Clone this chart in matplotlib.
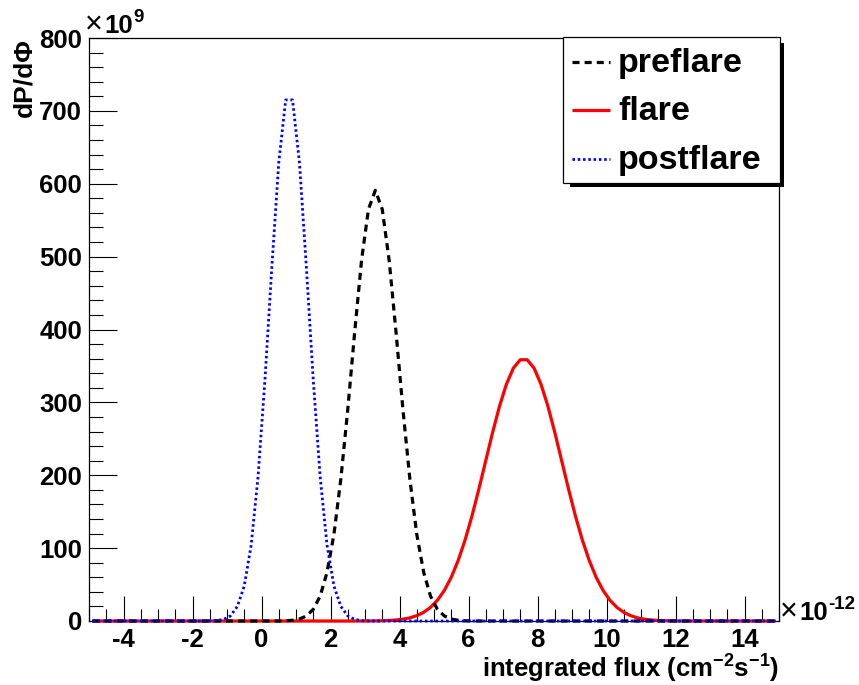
import numpy as np
import matplotlib
matplotlib.use("Agg")
import matplotlib.pyplot as plt
from matplotlib.patches import Rectangle
from matplotlib.ticker import MultipleLocator

plt.rcParams["font.family"] = ["Liberation Sans", "DejaVu Sans"]
plt.rcParams["font.weight"] = "bold"
plt.rcParams["mathtext.fontset"] = "custom"
plt.rcParams["mathtext.rm"] = "Liberation Sans"
plt.rcParams["mathtext.bf"] = "Liberation Sans:bold"

# Histogram binning: 100 bins from -5 to 15 (units of 1e-12 cm^-2 s^-1)
x_min, x_max, n_bins = -5.0, 15.0, 100

# dP/dPhi values (units of 1e9) for the non-empty bins of each distribution,
# listed from the first non-empty bin centre onwards
preflare_start = 0.7
preflare_vals = [0.3, 1.0, 2.7, 6.9, 16, 34, 67, 119, 195, 290, 396, 495, 565,
                 591, 565, 495, 396, 290, 195, 119, 67, 34, 16, 6.9, 2.7, 1.0, 0.3]

flare_start = 3.3
flare_vals = [0.2, 0.39, 0.75, 1.4, 2.5, 4.3, 7.3, 11.9, 18.7, 28.5, 42, 60, 83,
              111, 144, 181, 220, 259, 295, 325, 347, 358.5, 358.5, 347, 325,
              295, 259, 220, 181, 144, 111, 83, 60, 42, 28.5, 18.7, 11.9, 7.3,
              4.3, 2.5, 1.4, 0.75, 0.39, 0.2]

postflare_start = -1.5
postflare_vals = [0.15, 0.6, 2.2, 7, 20, 48, 104, 198, 331, 486, 629, 715, 715,
                  629, 486, 331, 198, 104, 48, 20, 7, 2.2, 0.6, 0.15]

labels = ["preflare", "flare", "postflare"]

width = (x_max - x_min) / n_bins
centers = x_min + width * (np.arange(n_bins) + 0.5)


def fill_hist(start, vals):
    h = np.zeros(n_bins)
    i0 = int(round((start - centers[0]) / width))
    h[i0:i0 + len(vals)] = vals
    return h


pre = fill_hist(preflare_start, preflare_vals)
fl = fill_hist(flare_start, flare_vals)
post = fill_hist(postflare_start, postflare_vals)

W, H = 859, 685
fig = plt.figure(figsize=(W / 100, H / 100), dpi=100)
L, R, T, B = 89, 779, 38, 621
ax = fig.add_axes([L / W, 1 - B / H, (R - L) / W, (B - T) / H])

style_fl = dict(color="red", lw=2.3, solid_capstyle="butt")
style_pre = dict(color="black", lw=2.3, dashes=(2.2, 1.6))
style_post = dict(color="blue", lw=2.0, dashes=(0.9, 1.0))

ax.plot(centers, fl, clip_on=False, zorder=3, **style_fl)
ax.plot(centers, pre, clip_on=False, zorder=4, **style_pre)
ax.plot(centers, post, clip_on=False, zorder=5, **style_post)

ax.set_xlim(x_min, x_max)
ax.set_ylim(0, 800)
ax.xaxis.set_major_locator(MultipleLocator(2))
ax.xaxis.set_minor_locator(MultipleLocator(0.5))
ax.yaxis.set_major_locator(MultipleLocator(100))
ax.yaxis.set_minor_locator(MultipleLocator(20))
ax.tick_params(which="both", direction="in", top=False, right=False,
               width=0.8, color="black")
ax.tick_params(axis="x", which="major", length=18, pad=5, labelsize=18.5)
ax.tick_params(axis="x", which="minor", length=9)
ax.tick_params(axis="y", which="major", length=20, pad=5, labelsize=18.5)
ax.tick_params(axis="y", which="minor", length=10)
ax.set_xticklabels([f"{int(v)}" for v in ax.get_xticks()], fontweight="bold")
ax.set_yticklabels([f"{int(v)}" for v in ax.get_yticks()], fontweight="bold")
for sp in ax.spines.values():
    sp.set_linewidth(0.9)

# Overlay in pixel coordinates for titles, exponents and legend
ov = fig.add_axes([0, 0, 1, 1], zorder=10)
ov.set_xlim(0, W)
ov.set_ylim(H, 0)
ov.axis("off")

ov.text(24, 38, "dP/d\u03A6", rotation=90, ha="center", va="top",
        fontsize=19, fontweight="bold")
ov.text(779, 677, r"integrated flux (cm$^{\mathbf{-2}}$s$^{\mathbf{-1}}$)",
        ha="right", va="baseline", fontsize=18.5, fontweight="bold")


def exponent_label(x, y, exp):
    ov.text(x - 2, y, "\u00D7", ha="left", va="baseline", fontsize=22,
            fontweight="normal", family="Liberation Sans")
    ov.text(x + 17, y, "10", ha="left", va="baseline", fontsize=18.5,
            fontweight="bold")
    ov.text(x + 46, y - 11, exp, ha="left", va="baseline", fontsize=13.5,
            fontweight="bold")


exponent_label(87, 33, "9")
exponent_label(782, 620, "-12")

# Legend box with shadow
lx0, ly0, lx1, ly1 = 563, 37, 780, 183
ov.add_patch(Rectangle((lx1, ly0 + 6), 4, ly1 - ly0 - 2, color="black", lw=0))
ov.add_patch(Rectangle((lx0 + 7, ly1), lx1 - lx0 - 3, 4, color="black", lw=0))
ov.add_patch(Rectangle((lx0, ly0), lx1 - lx0, ly1 - ly0, facecolor="white",
                       edgecolor="black", lw=0.9))
entry_y = [62, 110, 159]
styles = [style_pre, style_fl, style_post]
for y, lab, st in zip(entry_y, labels, styles):
    ov.plot([572, 610], [y, y], **st)
    ov.text(618, y + 10, lab, ha="left", va="baseline", fontsize=24.5,
            fontweight="bold")

fig.savefig("out.png", dpi=100)
